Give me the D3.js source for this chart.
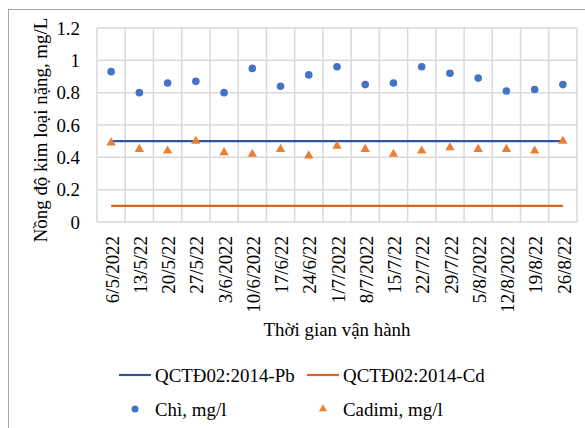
<!DOCTYPE html>
<html>
<head>
<meta charset="utf-8">
<script src="https://cdn.jsdelivr.net/npm/d3@7"></script>
<style>
  html, body { margin: 0; padding: 0; background: #fff; }
  svg { display: block; }
  text { font-family: "Liberation Serif", "Times New Roman", serif; fill: #000; }
</style>
</head>
<body>
<svg id="chart" width="585" height="428"></svg>
<script>
// Sampling dates (x categories)
const dates = ["6/5/2022", "13/5/22", "20/5/22", "27/5/22", "3/6/2022", "10/6/2022",
  "17/6/22", "24/6/22", "1/7/2022", "8/7/2022", "15/7/22", "22/7/22", "29/7/22",
  "5/8/2022", "12/8/2022", "19/8/22", "26/8/22"];

// Measured concentrations, mg/l
const lead = [0.93, 0.80, 0.86, 0.87, 0.80, 0.95, 0.84, 0.91, 0.96, 0.85, 0.86, 0.96, 0.92, 0.89, 0.81, 0.82, 0.85];
const cadmium = [0.49, 0.45, 0.44, 0.50, 0.43, 0.42, 0.45, 0.41, 0.47, 0.45, 0.42, 0.44, 0.46, 0.45, 0.45, 0.44, 0.50];

// Regulation limits (QCTĐ02:2014)
const limitPb = 0.5;
const limitCd = 0.1;

const yTicks = [0, 0.2, 0.4, 0.6, 0.8, 1, 1.2];

const colors = {
  limitPb: "#2F55A0",
  limitCd: "#D6661F",
  lead: "#4472C4",
  cadmium: "#ED7D31",
  grid: "#D9D9D9"
};

const svg = d3.select("#chart");
const plot = { left: 97, right: 577, top: 28, bottom: 222 };
const fontSize = 18.9;

// Chart frame
svg.append("rect")
  .attr("x", 8.5).attr("y", 9.5)
  .attr("width", 600).attr("height", 450)
  .attr("fill", "#fff").attr("stroke", "#A6A6A6").attr("stroke-width", 1);

const x = d3.scaleBand().domain(dates).range([plot.left, plot.right]);
const y = d3.scaleLinear().domain([0, 1.2]).range([plot.bottom, plot.top]);

// Horizontal gridlines
svg.append("g").selectAll("line").data(yTicks).join("line")
  .attr("x1", plot.left).attr("x2", plot.right)
  .attr("y1", d => y(d)).attr("y2", d => y(d))
  .attr("stroke", colors.grid).attr("stroke-width", 1.5);

// Vertical gridlines at category boundaries
const bounds = dates.map(d => x(d)).concat([x(dates[dates.length - 1]) + x.bandwidth()]);
svg.append("g").selectAll("line").data(bounds).join("line")
  .attr("x1", d => d).attr("x2", d => d)
  .attr("y1", plot.top).attr("y2", plot.bottom)
  .attr("stroke", colors.grid).attr("stroke-width", 1.5);

// Y axis labels
const yAxis = d3.axisLeft(y).tickValues(yTicks).tickSize(0).tickPadding(17)
  .tickFormat(d => d3.format("")(d));
const gy = svg.append("g").attr("transform", `translate(${plot.left},0)`).call(yAxis);
gy.select(".domain").remove();
gy.selectAll("text").attr("font-size", fontSize).attr("font-family", null);

// X axis labels, rotated
const gx = svg.append("g");
gx.selectAll("text").data(dates).join("text")
  .attr("transform", d => `translate(${x(d) + x.bandwidth() / 2 + 1},236) rotate(-90)`)
  .attr("text-anchor", "end")
  .attr("dy", "0.35em")
  .attr("font-size", fontSize)
  .text(d => d);

// Axis titles
svg.append("text")
  .attr("x", (plot.left + plot.right) / 2).attr("y", 336)
  .attr("text-anchor", "middle").attr("font-size", fontSize)
  .text("Thời gian vận hành");

svg.append("text")
  .attr("transform", `translate(40,${(plot.top + 232) / 2}) rotate(-90)`)
  .attr("text-anchor", "middle").attr("dy", "0.35em").attr("font-size", fontSize)
  .text("Nồng độ kim loại nặng, mg/L");

// Limit lines, from first to last category centre
const cx = d => x(d) + x.bandwidth() / 2;
const limitLine = v => d3.line().x(d => cx(d)).y(() => y(v))(dates);
svg.append("path").attr("d", limitLine(limitPb))
  .attr("fill", "none").attr("stroke", colors.limitPb).attr("stroke-width", 2.2);
svg.append("path").attr("d", limitLine(limitCd))
  .attr("fill", "none").attr("stroke", colors.limitCd).attr("stroke-width", 2.2);

// Lead: circles
svg.append("g").selectAll("circle").data(lead).join("circle")
  .attr("cx", (d, i) => cx(dates[i]))
  .attr("cy", d => y(d))
  .attr("r", 3.8)
  .attr("fill", colors.lead);

// Cadmium: triangles
const tri = d3.symbol().type(d3.symbolTriangle).size(38);
svg.append("g").selectAll("path").data(cadmium).join("path")
  .attr("transform", (d, i) => `translate(${cx(dates[i])},${y(d)})`)
  .attr("d", tri)
  .attr("fill", colors.cadmium);

// Legend
const legend = svg.append("g");
const items = [
  { label: "QCTĐ02:2014-Pb", kind: "line", color: colors.limitPb, x: 119, y: 375 },
  { label: "QCTĐ02:2014-Cd", kind: "line", color: colors.limitCd, x: 307, y: 375 },
  { label: "Chì, mg/l", kind: "circle", color: colors.lead, x: 119, y: 409 },
  { label: "Cadimi, mg/l", kind: "triangle", color: colors.cadmium, x: 307, y: 409 }
];
items.forEach(it => {
  const g = legend.append("g").attr("transform", `translate(${it.x},${it.y})`);
  if (it.kind === "line") {
    g.append("line").attr("x1", 0).attr("x2", 32).attr("y1", 0).attr("y2", 0)
      .attr("stroke", it.color).attr("stroke-width", 2.2);
  } else if (it.kind === "circle") {
    g.append("circle").attr("cx", 16).attr("cy", 0).attr("r", 3.5).attr("fill", it.color);
  } else {
    g.append("path").attr("transform", "translate(16,0)")
      .attr("d", d3.symbol().type(d3.symbolTriangle).size(28)).attr("fill", it.color);
  }
  g.append("text").attr("x", 36).attr("y", 0).attr("dy", "0.35em")
    .attr("font-size", fontSize).text(it.label);
});
</script>
</body>
</html>
